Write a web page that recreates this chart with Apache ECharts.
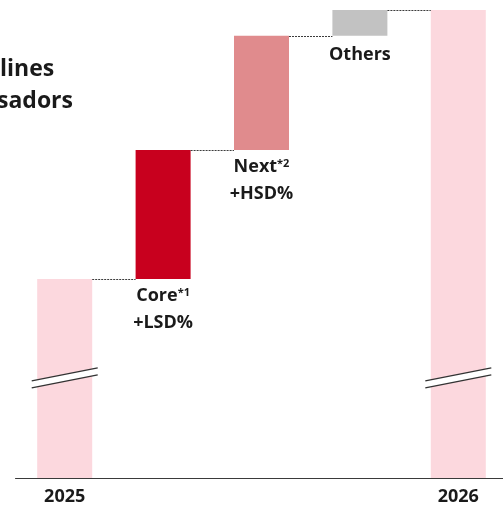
<!DOCTYPE html>
<html>
<head>
<meta charset="utf-8">
<script src="https://cdn.jsdelivr.net/npm/echarts@6/dist/echarts.min.js"></script>
<style>
  html, body { margin: 0; padding: 0; background: #fff; }
  #chart { width: 503px; height: 507px; }
</style>
</head>
<body>
<div id="chart"></div>
<script>
// Waterfall steps from 2025 to 2026 (indexed units, 2026 = 100)
const categories = ['2025', 'Core', 'Next', 'Others', '2026'];
const stepValues = [42.5, 27.6, 24.4, 5.5, 100];
const isTotal = [true, false, false, false, true];
const tickLabels = ['2025', '', '', '', '2026'];
const stepLabels = ['', '{t|Core}{s|*1}\n{t|+LSD%}', '{t|Next}{s|*2}\n{t|+HSD%}', '{t|Others}', ''];
const barColors = ['#fcd8de', '#c8001e', '#e08b8d', '#c2c2c2', '#fcd8de'];
const breakLevel = 21.4;            // where the axis-break marks cut the total bars
const breakBars = [0, 4];

// running totals for the invisible base and the connector levels
const bases = [];
const tops = [];
let running = 0;
stepValues.forEach((v, i) => {
  if (isTotal[i]) { bases.push(0); running = v; }
  else { bases.push(running); running += v; }
  tops.push(running);
});

const BAR_W = 55;
const FONT = '"Open Sans", "Noto Sans", sans-serif';
const TEXT = '#1a1a1a';

const chart = echarts.init(document.getElementById('chart'), null, { renderer: 'canvas' });

chart.setOption({
  animation: false,
  backgroundColor: '#ffffff',
  grid: { left: 15.5, top: 10, bottom: 29, width: 492, containLabel: false, outerBoundsMode: 'none' },
  xAxis: {
    type: 'category',
    data: categories,
    axisLine: { lineStyle: { color: '#3a3a3a', width: 1 } },
    axisTick: { show: false },
    axisLabel: {
      margin: 10,
      fontSize: 18,
      fontWeight: 'bold',
      fontFamily: FONT,
      color: TEXT,
      interval: 0,
      formatter: (v, i) => tickLabels[i]
    }
  },
  yAxis: { type: 'value', min: 0, max: 100, show: false, splitLine: { show: false } },
  graphic: [
    { type: 'text', left: 0, top: 58, style: { text: 'lines', font: 'bold 23px ' + FONT, fill: TEXT } },
    { type: 'text', left: -3, top: 90, style: { text: 'sadors', font: 'bold 23px ' + FONT, fill: TEXT } }
  ],
  series: [
    {
      type: 'bar',
      stack: 'wf',
      barWidth: BAR_W,
      silent: true,
      itemStyle: { color: 'transparent' },
      data: bases
    },
    {
      type: 'bar',
      stack: 'wf',
      barWidth: BAR_W,
      data: stepValues.map((v, i) => ({
        value: v,
        itemStyle: { color: barColors[i] },
        label: {
          show: stepLabels[i] !== '',
          position: 'bottom',
          distance: i === 3 ? 6 : 3,
          formatter: stepLabels[i],
          rich: {
            t: { fontSize: 18, fontWeight: 'bold', fontFamily: FONT, color: TEXT, lineHeight: 27 },
            s: { fontSize: 11, fontWeight: 'bold', fontFamily: FONT, color: TEXT, lineHeight: 11, verticalAlign: 'top', padding: [5, 0, 0, 0] }
          }
        }
      }))
    },
    {
      // dotted connectors from each bar's top to the next bar
      type: 'custom',
      silent: true,
      data: tops.slice(0, -1).map((t, i) => [i, t]),
      renderItem: (params, api) => {
        const i = api.value(0);
        const lvl = api.value(1);
        const p0 = api.coord([i, lvl]);
        const p1 = api.coord([i + 1, lvl]);
        const y = Math.round(p0[1]) + 0.5;
        return {
          type: 'line',
          shape: { x1: p0[0] + BAR_W / 2, y1: y, x2: p1[0] - BAR_W / 2, y2: y },
          style: { stroke: '#3c3c3c', lineWidth: 1, lineDash: [2, 1] }
        };
      },
      z: 3
    },
    {
      // axis-break marks across the total bars
      type: 'custom',
      silent: true,
      data: breakBars.map(i => [i, breakLevel]),
      renderItem: (params, api) => {
        const c = api.coord([api.value(0), api.value(1)]);
        const hw = 33, dy = 6.5, gap = 3.5;
        const xl = c[0] - hw, xr = c[0] + hw;
        return {
          type: 'group',
          children: [
            {
              type: 'polygon',
              shape: { points: [[xl, c[1] + dy - gap], [xr, c[1] - dy - gap], [xr, c[1] - dy + gap], [xl, c[1] + dy + gap]] },
              style: { fill: '#ffffff' }
            },
            {
              type: 'line',
              shape: { x1: xl, y1: c[1] + dy - gap, x2: xr, y2: c[1] - dy - gap },
              style: { stroke: '#333333', lineWidth: 1.3 }
            },
            {
              type: 'line',
              shape: { x1: xl, y1: c[1] + dy + gap, x2: xr, y2: c[1] - dy + gap },
              style: { stroke: '#333333', lineWidth: 1.3 }
            }
          ]
        };
      },
      z: 4
    }
  ]
});
</script>
</body>
</html>
